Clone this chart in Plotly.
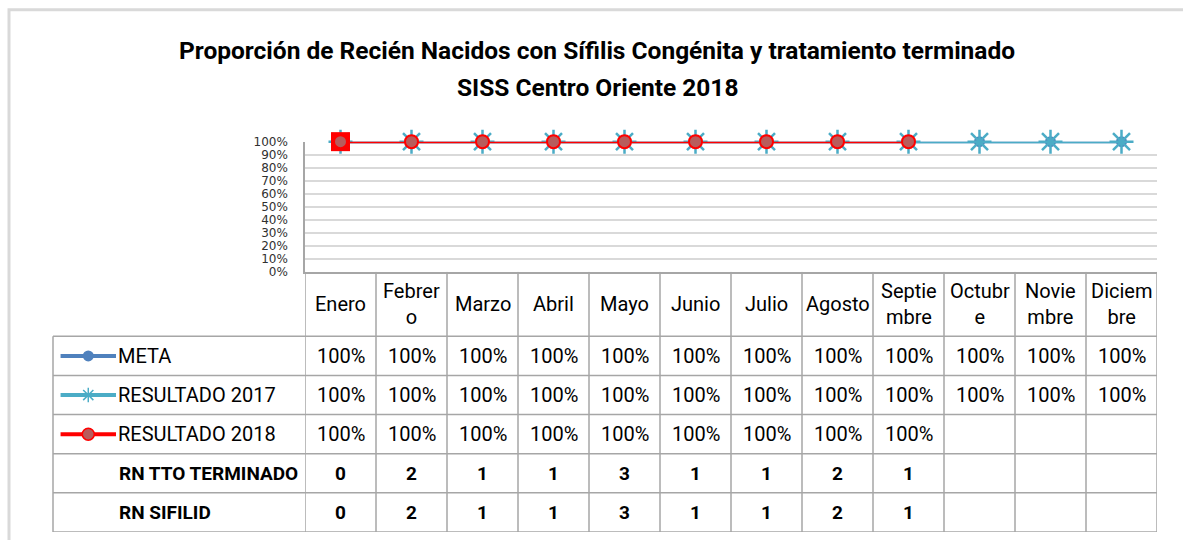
import plotly.graph_objects as go

# Data
MONTHS = ["Enero", "Febrero", "Marzo", "Abril", "Mayo", "Junio", "Julio",
          "Agosto", "Septiembre", "Octubre", "Noviembre", "Diciembre"]
MONTH_HEADERS = ["Enero", "Febrer<br>o", "Marzo", "Abril", "Mayo", "Junio", "Julio",
                 "Agosto", "Septie<br>mbre", "Octubr<br>e", "Novie<br>mbre", "Diciem<br>bre"]
META = [1.0, 1.0, 1.0, 1.0, 1.0, 1.0, 1.0, 1.0, 1.0, 1.0, 1.0, 1.0]
RESULTADO_2017 = [1.0, 1.0, 1.0, 1.0, 1.0, 1.0, 1.0, 1.0, 1.0, 1.0, 1.0, 1.0]
RESULTADO_2018 = [1.0, 1.0, 1.0, 1.0, 1.0, 1.0, 1.0, 1.0, 1.0, None, None, None]
RN_TTO_TERMINADO = [0, 2, 1, 1, 3, 1, 1, 2, 1, None, None, None]
RN_SIFILID = [0, 2, 1, 1, 3, 1, 1, 2, 1, None, None, None]

W, H = 1183, 540
# vertical placement as it comes out in the photographed page
TOP_Y, USED_H = 6.2, 525.4

COLOR_META = '#4f81bd'
COLOR_2017 = '#4bacc6'
COLOR_2018 = '#ff0000'
GRID = '#a6a6a6'
FONT = 'Roboto, Arial'


def px(x):
    # page pixel -> paper x
    return x / W


def py(y):
    # page pixel -> paper y
    return 1 - (y - TOP_Y) / USED_H


# table rows in y2 units (header taller than data rows)
HEADER_H = 1.65
ROW_EDGES = [0, HEADER_H] + [HEADER_H + k for k in range(1, 6)]
ROW_CENTERS = [HEADER_H + k + 0.5 for k in range(5)]

x_idx = list(range(len(MONTHS)))

fig = go.Figure()

# chart series
fig.add_trace(go.Scatter(
    x=x_idx, y=META, mode='lines+markers', name='META',
    line=dict(color=COLOR_META, width=3),
    marker=dict(symbol='circle', size=11, color=COLOR_META),
    cliponaxis=False, showlegend=False,
))
fig.add_trace(go.Scatter(
    x=x_idx, y=RESULTADO_2017, mode='lines+markers', name='RESULTADO 2017',
    line=dict(color=COLOR_2017, width=3),
    marker=dict(symbol='asterisk-open', size=20, color=COLOR_2017,
                line=dict(color=COLOR_2017, width=2.5)),
    cliponaxis=False, showlegend=False,
))
# first 2018 point carries a square marker in the original
fig.add_trace(go.Scatter(
    x=x_idx[:1], y=RESULTADO_2018[:1], mode='markers',
    marker=dict(symbol='square', size=19, color=COLOR_2018),
    cliponaxis=False, showlegend=False, hoverinfo='skip',
))
fig.add_trace(go.Scatter(
    x=x_idx, y=RESULTADO_2018, mode='lines+markers', name='RESULTADO 2018',
    line=dict(color=COLOR_2018, width=3),
    marker=dict(symbol='circle', size=13, color='#b85c5c',
                line=dict(color=COLOR_2018, width=2)),
    cliponaxis=False, showlegend=False,
))

# legend keys inside the data table (left column axis)
keys = [
    (COLOR_META, dict(symbol='circle', size=11, color=COLOR_META)),
    (COLOR_2017, dict(symbol='asterisk-open', size=12, color=COLOR_2017,
                      line=dict(color=COLOR_2017, width=1.5))),
    (COLOR_2018, dict(symbol='circle', size=12, color='#b85c5c',
                      line=dict(color=COLOR_2018, width=1.5))),
]
for i, (color, marker) in enumerate(keys):
    yc = ROW_CENTERS[i]
    fig.add_trace(go.Scatter(
        x=[0.03, 0.25], y=[yc, yc], mode='lines', xaxis='x2', yaxis='y2',
        line=dict(color=color, width=4), showlegend=False, hoverinfo='skip',
    ))
    fig.add_trace(go.Scatter(
        x=[0.14], y=[yc], mode='markers', xaxis='x2', yaxis='y2',
        marker=marker, showlegend=False, hoverinfo='skip',
    ))

shapes = []
# outer chart border (top and left edges visible)
shapes.append(dict(type='rect', xref='paper', yref='paper',
                   x0=px(9), x1=px(1200), y0=-0.1, y1=py(9),
                   line=dict(color='#d9d9d9', width=3)))
# horizontal table lines
for edge in ROW_EDGES[1:]:
    shapes.append(dict(type='line', xref='paper', yref='y2',
                       x0=px(53), x1=px(1157), y0=edge, y1=edge,
                       line=dict(color=GRID, width=1.5)))
# vertical lines between month columns
for k in range(len(MONTHS) + 1):
    shapes.append(dict(type='line', xref='x', yref='y2',
                       x0=k - 0.5, x1=k - 0.5, y0=0, y1=ROW_EDGES[-1],
                       line=dict(color=GRID, width=1.5)))
# left border of legend column
shapes.append(dict(type='line', xref='paper', yref='y2',
                   x0=px(53), x1=px(53), y0=HEADER_H, y1=ROW_EDGES[-1],
                   line=dict(color=GRID, width=1.5)))

title_font = dict(family=FONT, size=24.5, color='#000000', weight='bold')
annotations = [
    dict(text='Proporción de Recién Nacidos con Sífilis Congénita y tratamiento terminado',
         xref='paper', yref='paper', x=px(597), y=py(50), xanchor='center',
         yanchor='middle', showarrow=False, font=title_font),
    dict(text='SISS Centro Oriente 2018',
         xref='paper', yref='paper', x=px(597), y=py(87), xanchor='center',
         yanchor='middle', showarrow=False, font=title_font),
]

cell_font = dict(family=FONT, size=20, color='#000000')
bold_font = dict(family=FONT, size=19, color='#000000', weight='bold')

for i, head in enumerate(MONTH_HEADERS):
    annotations.append(dict(text=head, xref='x', yref='y2', x=i, y=HEADER_H / 2,
                            xanchor='center', yanchor='middle',
                            showarrow=False, font=cell_font))

rows = [
    ('META', META, 'pct'),
    ('RESULTADO 2017', RESULTADO_2017, 'pct'),
    ('RESULTADO 2018', RESULTADO_2018, 'pct'),
    ('RN TTO TERMINADO', RN_TTO_TERMINADO, 'int'),
    ('RN SIFILID', RN_SIFILID, 'int'),
]
for r, (label, values, kind) in enumerate(rows):
    yc = ROW_CENTERS[r]
    font = cell_font if kind == 'pct' else bold_font
    annotations.append(dict(text=label, xref='x2', yref='y2',
                            x=0.25 if kind == 'pct' else 0.254, y=yc,
                            xanchor='left', yanchor='middle',
                            showarrow=False, font=font))
    for i, v in enumerate(values):
        if v is None:
            continue
        txt = f'{v:.0%}' if kind == 'pct' else f'{v}'
        annotations.append(dict(text=txt, xref='x', yref='y2', x=i, y=yc,
                                xanchor='center', yanchor='middle',
                                showarrow=False, font=font))

fig.update_layout(
    width=W, height=H,
    margin=dict(l=0, r=0, t=0, b=0),
    paper_bgcolor='white', plot_bgcolor='white',
    shapes=shapes, annotations=annotations,
    xaxis=dict(domain=[px(305), px(1157)], range=[-0.5, 11.5],
               showgrid=False, zeroline=False, showticklabels=False,
               showline=True, linecolor=GRID, linewidth=1.5, anchor='y'),
    yaxis=dict(domain=[py(270.7), py(140.7)], range=[0, 1],
               dtick=0.1, tickformat='.0%',
               showgrid=True, gridcolor='#d9d9d9', gridwidth=1.5,
               zeroline=False, showline=True, linecolor=GRID, linewidth=1.5,
               ticks='outside', ticklen=13, tickcolor='rgba(0,0,0,0)',
               tickfont=dict(family='DejaVu Sans', size=12, color='#303030'),
               anchor='x'),
    xaxis2=dict(domain=[px(53), px(305)], range=[0, 1], visible=False,
                anchor='y2', fixedrange=True),
    yaxis2=dict(domain=[max(py(533), 0.002), py(270.7)], range=[ROW_EDGES[-1], 0],
                visible=False, anchor='x2', fixedrange=True),
)

# drop the default 8px page margin so the figure fills the window exactly
fig.write_html(
    "out.html",
    config={'displayModeBar': False},
    post_script="document.body.style.margin='0';document.body.style.overflow='hidden';",
)
